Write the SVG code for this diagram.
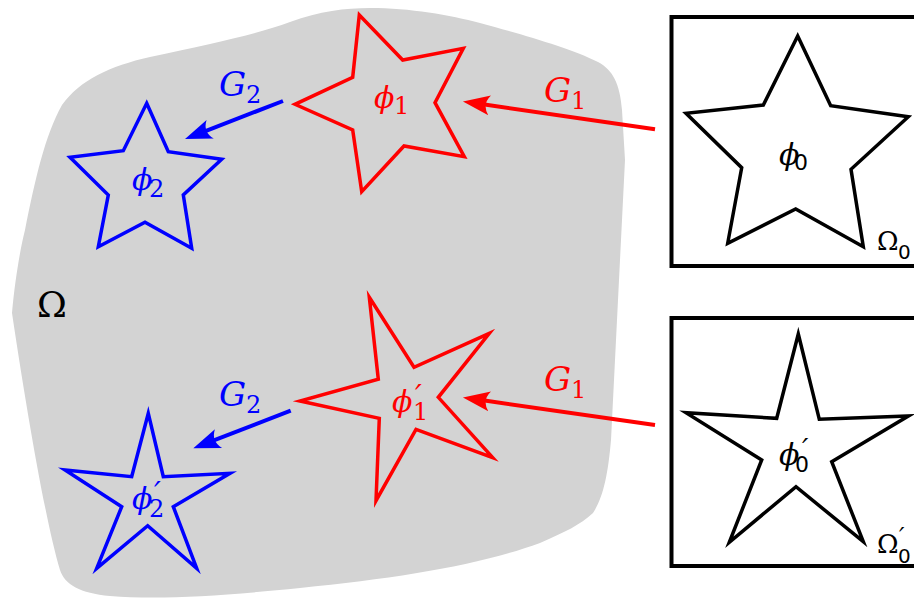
<svg xmlns="http://www.w3.org/2000/svg" width="914" height="603" viewBox="0 0 914 603">
<style>
.blob{fill:#d3d3d3;stroke:none}
.star{fill:none;stroke-width:3.5;stroke-linejoin:miter;stroke-miterlimit:10}
.red{stroke:#ff0000}
.blue{stroke:#0000ff}
.blk{stroke:#000;fill:#fff}
.box{fill:#fff;stroke:#000;stroke-width:4}
.arr{fill:none;stroke-width:4}
.m{font-family:"DejaVu Serif","Liberation Serif",serif;font-style:italic}
.s{font-family:"DejaVu Sans","Liberation Sans",sans-serif}
.up{font-family:"DejaVu Serif","Liberation Serif",serif}
.tr{fill:#ff0000}
.tb{fill:#0000ff}
.tk{fill:#000}
</style>
<defs>
<marker id="ahR" markerUnits="userSpaceOnUse" markerWidth="30" markerHeight="24" viewBox="0 -12 30 24" refX="12" refY="0" orient="auto">
<path d="M27,0 L0,-10 Q8,0 0,10 Z" fill="#ff0000"/>
</marker>
<marker id="ahB" markerUnits="userSpaceOnUse" markerWidth="30" markerHeight="24" viewBox="0 -12 30 24" refX="12" refY="0" orient="auto">
<path d="M27,0 L0,-10 Q8,0 0,10 Z" fill="#0000ff"/>
</marker>
</defs>

<g id="omega">
<path class="blob" d="M62,105 C80,80 110,66 150,57 C210,44 255,35 290,22 C320,11 345,8 370,8 C410,8 450,15 480,23 C520,34 570,48 598,62 C613,70 620,84 622,110 L625,160 L611,440 C608,475 603,498 593,513 C580,525 565,532 540,543 C480,565 400,578 300,588 C220,596 160,600 110,596 C80,593 65,585 60,570 C45,520 25,400 12,313 C15,280 20,250 25,230 C35,180 45,135 62,105 Z"/>
<text class="up tk" x="37" y="317" font-size="36">Ω</text>
</g>

<g id="box0">
<rect class="box" x="671.5" y="17" width="260" height="249"/>
<polygon class="star blk" points="797.7,36 830.7,105.7 908.3,116.7 851,169.3 863.3,246.7 795.7,209 727.7,243.3 741.7,167.7 686,113.3 763.3,105"/>
<text class="tk" x="779" y="165"><tspan class="m" font-size="30">ϕ</tspan><tspan class="s" x="794" y="170" font-size="22">0</tspan></text>
<text class="up tk" x="877" y="250" font-size="26">Ω<tspan class="s" x="898" y="259" font-size="20">0</tspan></text>
</g>

<g id="box0p">
<rect class="box" x="671.5" y="318" width="260" height="248"/>
<polygon class="star blk" points="798.3,334 819.3,419.3 908.3,416 831.7,461.7 863.3,541.7 796,486.7 729.3,542.3 761.7,460 686,412.7 776.7,418.3"/>
<text class="tk" x="779" y="465"><tspan class="m" font-size="30">ϕ</tspan><tspan class="m" x="802" y="459" font-size="28">′</tspan><tspan class="s" x="795" y="472" font-size="22">0</tspan></text>
<text class="up tk" x="877" y="553" font-size="26">Ω<tspan class="m" x="899" y="545" font-size="24">′</tspan><tspan class="s" x="898" y="563" font-size="20">0</tspan></text>
</g>

<g id="phi1">
<polygon class="star red" points="359.3,15 402.7,60 463.3,48.3 435,102.7 464.3,156.7 404,146 361.7,191.7 352.7,130 295,104.3 352.7,77.3"/>
<text class="tr" x="374" y="108"><tspan class="m" font-size="30">ϕ</tspan><tspan class="up" x="394" y="114" font-size="24">1</tspan></text>
</g>

<g id="phi1p">
<polygon class="star red" points="369.3,297.3 414,367.3 489.3,333.3 438.3,397.3 492.7,457.7 416,429.3 376,500.7 379.3,418.3 300,401 378.3,379.3"/>
<text class="tr" x="392" y="412"><tspan class="m" font-size="30">ϕ</tspan><tspan class="m" x="415" y="406" font-size="30">′</tspan><tspan class="up" x="413" y="420" font-size="24">1</tspan></text>
</g>

<g id="phi2">
<polygon class="star blue" points="146.7,103.3 168.3,151.7 221.7,159.3 183.3,195 191.7,248.3 145,222.3 98.3,246.7 108.3,195 70,157.3 123.3,150.7"/>
<text class="tb" x="132" y="190"><tspan class="m" font-size="30">ϕ</tspan><tspan class="up" x="149" y="197" font-size="24">2</tspan></text>
</g>

<g id="phi2p">
<polygon class="star blue" points="148.3,413.3 163.3,476.7 230,473.3 173.3,506.7 196.7,568.3 147.7,525.7 96.7,568.3 121.7,506.7 65,470 131.7,476.7"/>
<text class="tb" x="132" y="509"><tspan class="m" font-size="30">ϕ</tspan><tspan class="m" x="154" y="503" font-size="30">′</tspan><tspan class="up" x="149" y="517" font-size="24">2</tspan></text>
</g>

<g id="connectors">
<line class="arr" stroke="#ff0000" x1="655" y1="129.3" x2="477.8" y2="103.6" marker-end="url(#ahR)"/>
<line class="arr" stroke="#ff0000" x1="655" y1="425" x2="477.8" y2="399.6" marker-end="url(#ahR)"/>
<line class="arr" stroke="#0000ff" x1="283" y1="101" x2="199" y2="133.6" marker-end="url(#ahB)"/>
<line class="arr" stroke="#0000ff" x1="290.7" y1="410.7" x2="207.3" y2="442.9" marker-end="url(#ahB)"/>
<text class="tr" x="544" y="102"><tspan class="m" font-size="34">G</tspan><tspan class="up" x="571" y="109" font-size="24">1</tspan></text>
<text class="tr" x="544" y="391"><tspan class="m" font-size="34">G</tspan><tspan class="up" x="571" y="398" font-size="24">1</tspan></text>
<text class="tb" x="219" y="96"><tspan class="m" font-size="34">G</tspan><tspan class="up" x="246" y="103" font-size="24">2</tspan></text>
<text class="tb" x="219" y="406"><tspan class="m" font-size="34">G</tspan><tspan class="up" x="246" y="413" font-size="24">2</tspan></text>
</g>
</svg>
